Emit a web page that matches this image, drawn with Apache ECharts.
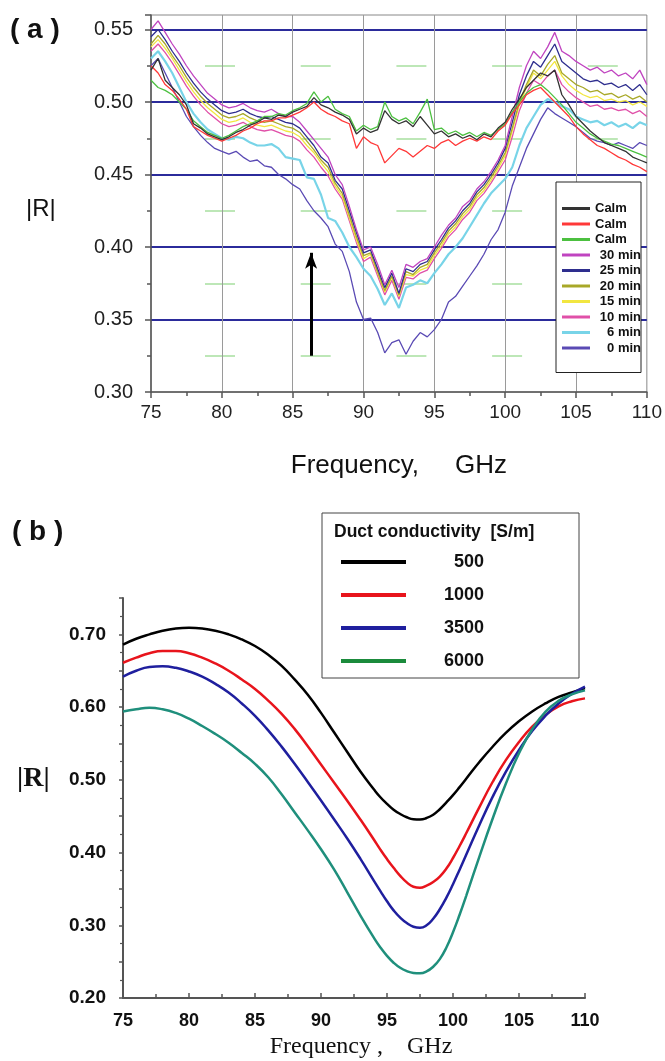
<!DOCTYPE html>
<html><head><meta charset="utf-8">
<script src="https://cdn.jsdelivr.net/npm/echarts@6/dist/echarts.min.js"></script>
<style>html,body{margin:0;padding:0;background:#fff}#c{width:665px;height:1061px}</style>
</head><body><div id="c"></div><script>
// ---------- Panel (a) data ----------
const freqA = [75,75.5,76,76.5,77,77.5,78,78.5,79,79.5,
80,80.5,81,81.5,82,82.5,83,83.5,84,84.5,
85,85.5,86,86.5,87,87.5,88,88.5,89,89.5,
90,90.5,91,91.5,92,92.5,93,93.5,94,94.5,
95,95.5,96,96.5,97,97.5,98,98.5,99,99.5,
100,100.5,101,101.5,102,102.5,103,103.5,104,104.5,
105,105.5,106,106.5,107,107.5,108,108.5,109,109.5,
110];
const calmBlack = [0.522,0.530,0.515,0.510,0.505,0.498,0.485,0.482,0.478,0.476,
0.474,0.476,0.479,0.481,0.484,0.486,0.489,0.488,0.491,0.490,
0.493,0.495,0.497,0.503,0.498,0.496,0.493,0.491,0.488,0.478,
0.482,0.479,0.481,0.494,0.488,0.485,0.487,0.483,0.490,0.484,
0.478,0.480,0.476,0.478,0.475,0.477,0.474,0.478,0.476,0.482,
0.486,0.495,0.502,0.510,0.515,0.520,0.518,0.522,0.505,0.498,
0.490,0.485,0.480,0.476,0.472,0.470,0.468,0.466,0.462,0.460,
0.458];
const calmRed = [0.525,0.520,0.512,0.508,0.502,0.495,0.483,0.480,0.477,0.475,
0.473,0.475,0.477,0.480,0.482,0.485,0.487,0.487,0.489,0.489,
0.491,0.493,0.496,0.500,0.495,0.492,0.490,0.487,0.485,0.468,
0.476,0.472,0.470,0.458,0.463,0.468,0.466,0.462,0.466,0.470,
0.468,0.472,0.474,0.470,0.473,0.475,0.473,0.476,0.474,0.480,
0.484,0.492,0.498,0.505,0.508,0.510,0.505,0.500,0.495,0.490,
0.483,0.478,0.474,0.470,0.468,0.465,0.462,0.460,0.457,0.455,
0.452];
const calmGreen = [0.515,0.510,0.508,0.505,0.500,0.495,0.487,0.483,0.479,0.477,
0.475,0.477,0.480,0.483,0.485,0.487,0.490,0.490,0.492,0.491,
0.494,0.496,0.499,0.507,0.500,0.504,0.495,0.492,0.490,0.480,
0.484,0.481,0.483,0.500,0.490,0.487,0.489,0.485,0.493,0.502,
0.481,0.482,0.478,0.480,0.477,0.479,0.476,0.479,0.477,0.481,
0.485,0.493,0.500,0.506,0.510,0.512,0.508,0.503,0.498,0.492,
0.486,0.482,0.478,0.475,0.473,0.471,0.470,0.468,0.466,0.464,
0.462];
const min30 = [0.550,0.556,0.548,0.540,0.533,0.525,0.518,0.512,0.506,0.502,
0.498,0.496,0.497,0.499,0.496,0.494,0.493,0.495,0.492,0.490,
0.490,0.486,0.480,0.474,0.468,0.462,0.450,0.443,0.428,0.412,
0.398,0.400,0.388,0.374,0.384,0.372,0.388,0.386,0.390,0.392,
0.400,0.408,0.415,0.420,0.428,0.432,0.440,0.445,0.452,0.460,
0.470,0.490,0.510,0.525,0.535,0.530,0.538,0.548,0.535,0.532,
0.528,0.525,0.522,0.524,0.520,0.522,0.518,0.520,0.516,0.522,
0.512];
const min25 = [0.545,0.550,0.543,0.535,0.528,0.520,0.513,0.507,0.502,0.498,
0.494,0.492,0.493,0.495,0.492,0.490,0.489,0.490,0.488,0.486,
0.485,0.482,0.476,0.470,0.462,0.458,0.446,0.440,0.425,0.410,
0.396,0.398,0.385,0.372,0.382,0.368,0.385,0.383,0.388,0.390,
0.398,0.405,0.413,0.418,0.425,0.430,0.438,0.443,0.450,0.458,
0.468,0.486,0.505,0.518,0.528,0.524,0.532,0.540,0.528,0.524,
0.520,0.516,0.514,0.515,0.512,0.513,0.510,0.512,0.508,0.512,
0.505];
const min20 = [0.540,0.546,0.540,0.532,0.525,0.517,0.510,0.504,0.499,0.495,
0.491,0.489,0.490,0.492,0.489,0.487,0.486,0.487,0.485,0.483,
0.482,0.479,0.473,0.467,0.460,0.455,0.444,0.437,0.422,0.407,
0.394,0.396,0.383,0.370,0.380,0.367,0.383,0.381,0.386,0.388,
0.396,0.403,0.411,0.416,0.423,0.428,0.436,0.441,0.448,0.456,
0.465,0.482,0.500,0.512,0.522,0.518,0.526,0.532,0.520,0.516,
0.512,0.510,0.507,0.508,0.505,0.506,0.503,0.505,0.502,0.504,
0.500];
const min15 = [0.538,0.543,0.537,0.530,0.522,0.514,0.507,0.501,0.496,0.492,
0.488,0.486,0.487,0.489,0.486,0.484,0.483,0.484,0.482,0.480,
0.479,0.476,0.470,0.465,0.458,0.452,0.442,0.435,0.420,0.405,
0.392,0.395,0.382,0.369,0.379,0.366,0.381,0.380,0.384,0.386,
0.394,0.401,0.409,0.414,0.421,0.426,0.434,0.439,0.446,0.454,
0.463,0.480,0.498,0.510,0.520,0.516,0.522,0.528,0.518,0.512,
0.508,0.505,0.503,0.504,0.501,0.502,0.500,0.501,0.498,0.500,
0.497];
const min10 = [0.535,0.540,0.534,0.527,0.519,0.511,0.504,0.498,0.493,0.489,
0.485,0.483,0.484,0.486,0.483,0.481,0.480,0.481,0.479,0.477,
0.476,0.473,0.467,0.462,0.455,0.449,0.440,0.433,0.418,0.403,
0.390,0.393,0.380,0.367,0.377,0.364,0.379,0.378,0.382,0.384,
0.392,0.399,0.407,0.412,0.419,0.424,0.432,0.437,0.444,0.452,
0.460,0.476,0.494,0.506,0.515,0.512,0.518,0.522,0.512,0.507,
0.503,0.500,0.497,0.498,0.495,0.496,0.494,0.495,0.492,0.494,
0.490];
const min6 = [0.530,0.535,0.528,0.520,0.510,0.500,0.492,0.486,0.481,0.478,
0.475,0.474,0.476,0.475,0.472,0.470,0.470,0.471,0.468,0.462,
0.461,0.460,0.448,0.447,0.436,0.420,0.418,0.410,0.400,0.393,
0.385,0.380,0.371,0.360,0.368,0.358,0.372,0.374,0.377,0.375,
0.382,0.388,0.395,0.400,0.406,0.414,0.422,0.430,0.437,0.442,
0.447,0.455,0.470,0.482,0.490,0.498,0.502,0.500,0.497,0.495,
0.490,0.488,0.486,0.487,0.484,0.486,0.483,0.485,0.482,0.486,
0.484];
const min0 = [0.525,0.530,0.520,0.510,0.500,0.490,0.483,0.477,0.472,0.468,
0.466,0.464,0.466,0.462,0.459,0.460,0.456,0.455,0.450,0.447,
0.443,0.440,0.432,0.425,0.420,0.414,0.402,0.397,0.383,0.362,
0.350,0.351,0.341,0.327,0.334,0.336,0.326,0.335,0.341,0.338,
0.343,0.350,0.362,0.366,0.373,0.380,0.387,0.395,0.405,0.412,
0.424,0.442,0.455,0.468,0.478,0.488,0.496,0.492,0.489,0.486,
0.483,0.479,0.475,0.473,0.472,0.470,0.472,0.470,0.468,0.472,
0.470];
const namesA = ['Calm 1','Calm 2','Calm 3','30 min','25 min','20 min','15 min','10 min','6 min','0 min'];
const valuesA = [calmBlack, calmRed, calmGreen, min30, min25, min20, min15, min10, min6, min0];
const colorsA = ['#333333','#ff3838','#4cc040','#c044c0','#2e2e8e','#a8a828','#f2e640','#e050a8','#78d4e8','#5a4ab4'];
const arrowX = [86.3, 86.3];
const arrowY = [0.325, 0.396];

// ---------- Panel (b) data ----------
const freqB = [75,76,77,78,79,80,81,82,83,84,85,86,87,88,89,90,91,92,93,
94,94.5,95,95.5,96,96.5,97,97.5,98,98.5,99,99.5,100,100.5,101,
102,103,104,105,106,107,108,109,110];
const cond500 = [0.686,0.694,0.700,0.705,0.708,0.709,0.708,0.705,0.700,0.693,0.684,0.672,0.657,0.638,0.617,0.592,0.565,0.538,0.511,
0.487,0.476,0.467,0.459,0.453,0.4485,0.4458,0.4455,0.4475,0.452,0.4595,0.469,0.479,0.490,0.5015,
0.5245,0.5455,0.5645,0.5805,0.594,0.605,0.614,0.620,0.626];
const cond1000 = [0.661,0.668,0.674,0.677,0.677,0.674,0.668,0.660,0.650,0.638,0.625,0.609,0.591,0.570,0.546,0.521,0.496,0.471,0.445,
0.418,0.404,0.391,0.379,0.368,0.359,0.353,0.3515,0.3545,0.3595,0.367,0.378,0.3925,0.409,0.4265,
0.4625,0.497,0.527,0.552,0.573,0.589,0.601,0.608,0.612];
const cond3500 = [0.642,0.650,0.655,0.656,0.654,0.649,0.642,0.632,0.620,0.605,0.588,0.568,0.546,0.522,0.497,0.4715,0.4455,0.419,0.391,
0.3615,0.347,0.333,0.3205,0.3105,0.303,0.298,0.2965,0.300,0.309,0.322,0.338,0.3565,0.3765,0.397,
0.438,0.4765,0.511,0.541,0.567,0.588,0.605,0.618,0.628];
const cond6000 = [0.594,0.597,0.599,0.597,0.592,0.584,0.574,0.563,0.551,0.537,0.522,0.5035,0.4805,0.4555,0.4305,0.4045,0.3765,0.345,0.313,
0.283,0.2695,0.258,0.2485,0.2415,0.237,0.2345,0.234,0.2365,0.243,0.2535,0.2695,0.2905,0.3145,0.3405,
0.3945,0.4465,0.4945,0.5365,0.5695,0.5935,0.6085,0.6175,0.623];
const namesB = ['500','1000','3500','6000'];
const valuesB = [cond500, cond1000, cond3500, cond6000];
const colorsB = ['#000000','#e8141c','#1f1f9e','#1f8f7c'];

// ---------- build ----------
const SANS = 'Liberation Sans, Arial, sans-serif';
const SERIF = 'Liberation Serif, Times New Roman, serif';
const pairs = (xs, ys) => xs.map((x, i) => [x, ys[i]]);

const seriesA = [];
[9,8,7,6,5,4,3,2,1,0].forEach(i => {
  const s = {
    type: 'line', name: namesA[i], xAxisIndex: 0, yAxisIndex: 0,
    data: pairs(freqA, valuesA[i]), symbol: 'none',
    lineStyle: {width: i === 8 ? 2.2 : 1.3, color: colorsA[i]},
    itemStyle: {color: colorsA[i]}
  };
  if (i === 0) {
    s.markLine = {
      silent: true, symbol: ['none', 'arrow'], symbolSize: [9, 16],
      lineStyle: {color: '#000', width: 3, type: 'solid'},
      label: {show: false},
      data: [[{coord: [arrowX[0], arrowY[0]]}, {coord: [arrowX[1], arrowY[1]]}]]
    };
  }
  seriesA.push(s);
});
const seriesB = namesB.map((n, i) => ({
  type: 'line', name: n, xAxisIndex: 1, yAxisIndex: 1,
  data: pairs(freqB, valuesB[i]), symbol: 'none', smooth: true,
  lineStyle: {width: 2.5, color: colorsB[i]}, itemStyle: {color: colorsB[i]}
}));

const option = {
  animation: false,
  backgroundColor: '#fff',
  title: [
    {text: '( a )', left: 10, top: 16, padding: 0, textStyle: {fontFamily: SANS, fontSize: 28, fontWeight: 'bold', color: '#111'}},
    {text: '|R|', left: 26, top: 197, padding: 0, textStyle: {fontFamily: SANS, fontSize: 24, fontWeight: 'normal', color: '#111'}},
    {text: '( b )', left: 12, top: 518, padding: 0, textStyle: {fontFamily: SANS, fontSize: 28, fontWeight: 'bold', color: '#111'}},
    {text: '|R|', left: 17, top: 765, padding: 0, textStyle: {fontFamily: SERIF, fontSize: 28, fontWeight: 'bold', color: '#111'}},
    {text: 'Duct conductivity  [S/m]', left: 334, top: 523, padding: 0, z: 20, textStyle: {fontFamily: SANS, fontSize: 17.5, fontWeight: 'bold', color: '#111'}}
  ],
  grid: [
    {left: 151, top: 15, width: 501, height: 377, show: true, borderColor: '#888', borderWidth: 1, backgroundColor: 'transparent'},
    {left: 123, top: 598, width: 462, height: 400}
  ],
  xAxis: [
    {gridIndex: 0, type: 'value', min: 75, max: 110, interval: 5,
     axisLine: {lineStyle: {color: '#555', width: 1.5}},
     axisTick: {show: true, length: 6, lineStyle: {color: '#555', width: 1.5}},
     minorTick: {show: true, splitNumber: 2, length: 4, lineStyle: {color: '#555', width: 1.5}},
     axisLabel: {fontFamily: SANS, fontSize: 19, color: '#222', margin: 11},
     splitLine: {show: true, showMinLine: false, showMaxLine: false, lineStyle: {color: '#9a9a9a', width: 1}},
     name: 'Frequency,     GHz', nameLocation: 'middle', nameGap: 61,
     nameTextStyle: {fontFamily: SANS, fontSize: 26, color: '#111'}},
    {gridIndex: 1, type: 'value', min: 75, max: 110, interval: 5,
     axisLine: {lineStyle: {color: '#555', width: 2}},
     axisTick: {show: true, inside: true, length: 5, lineStyle: {color: '#555', width: 1.5}},
     minorTick: {show: true, splitNumber: 2, length: 4, lineStyle: {color: '#555', width: 1.5}},
     axisLabel: {fontFamily: SANS, fontSize: 18, fontWeight: 'bold', color: '#111', margin: 14},
     splitLine: {show: false},
     name: 'Frequency ,    GHz', nameLocation: 'middle', nameGap: 37,
     nameTextStyle: {fontFamily: SERIF, fontSize: 24, color: '#111', padding: [0, 0, 0, 14]}}
  ],
  yAxis: [
    {gridIndex: 0, type: 'value', min: 0.30, max: 0.56, interval: 0.05,
     axisLine: {show: true, lineStyle: {color: '#555', width: 1.5}},
     axisTick: {show: true, length: 6, lineStyle: {color: '#555', width: 1.5}},
     minorTick: {show: true, splitNumber: 2, length: 4, lineStyle: {color: '#555', width: 1.5}},
     axisLabel: {fontFamily: SANS, fontSize: 20, color: '#222', margin: 18,
       formatter: v => v > 0.5551 ? '' : v.toFixed(2)},
     splitLine: {show: true, showMinLine: false, showMaxLine: false, lineStyle: {color: '#2b2b9b', width: 2}},
     minorSplitLine: {show: true, lineStyle: {color: '#a8e0a0', width: 1.5, type: [30, 65.7], dashOffset: 41.7}}},
    {gridIndex: 1, type: 'value', min: 0.20, max: 0.75, interval: 0.05,
     axisLine: {show: true, lineStyle: {color: '#555', width: 2}},
     axisTick: {show: true, length: 4, lineStyle: {color: '#555', width: 1.5}},
     minorTick: {show: true, splitNumber: 2, length: 3, lineStyle: {color: '#555', width: 1.2}},
     axisLabel: {fontFamily: SANS, fontSize: 19, fontWeight: 'bold', color: '#111', margin: 17,
       formatter: v => Math.abs(v * 10 - Math.round(v * 10)) < 1e-6 ? v.toFixed(2) : ''},
     splitLine: {show: false}}
  ],
  legend: [
    {orient: 'vertical', left: 556, top: 182, padding: [20, 0, 18, 6],
     itemWidth: 28, itemHeight: 14, itemGap: 2.5, icon: 'path://M0,0H28V3H0Z',
     backgroundColor: '#fff', borderColor: '#222', borderWidth: 1, z: 10,
     data: namesA,
     formatter: n => n.indexOf('Calm') === 0 ? '{l|Calm}' : '{r|' + n + '}',
     textStyle: {rich: {
       l: {fontFamily: SANS, fontSize: 13, fontWeight: 'bold', color: '#111', width: 46, align: 'left', lineHeight: 14},
       r: {fontFamily: SANS, fontSize: 13, fontWeight: 'bold', color: '#111', width: 46, align: 'right', lineHeight: 14}
     }}},
    {orient: 'vertical', left: 322, top: 513, padding: [40, 95, 8, 19],
     itemWidth: 65, itemHeight: 18, itemGap: 15, icon: 'path://M0,0H65V4H0Z',
     backgroundColor: '#fff', borderColor: '#444', borderWidth: 1, z: 10,
     data: [{name: '500'}, {name: '1000'}, {name: '3500'}, {name: '6000', itemStyle: {color: '#1b8b3c'}}],
     formatter: n => '{r|' + n + '}',
     textStyle: {rich: {
       r: {fontFamily: SANS, fontSize: 18, fontWeight: 'bold', color: '#111', width: 73, align: 'right', lineHeight: 18}
     }}}
  ],
  series: seriesA.concat(seriesB)
};
const chart = echarts.init(document.getElementById('c'), null, {renderer: 'canvas'});
chart.setOption(option);
</script></body></html>
